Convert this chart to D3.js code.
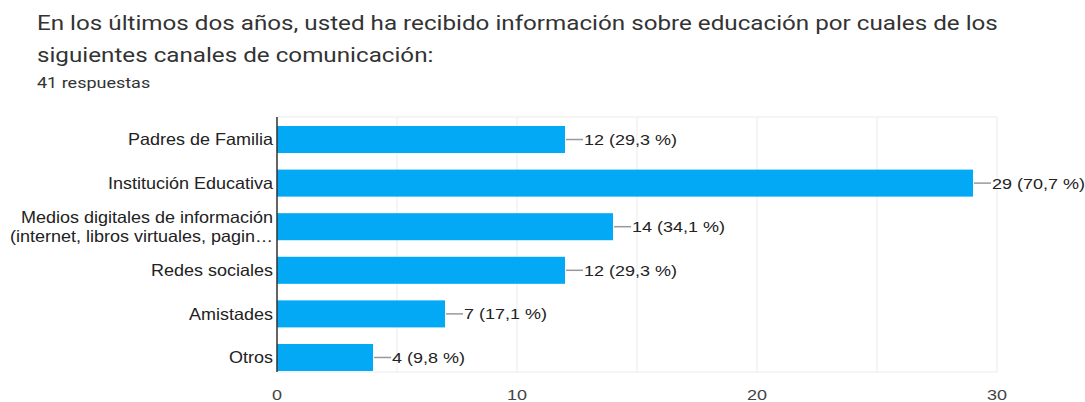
<!DOCTYPE html>
<html>
<head>
<meta charset="utf-8">
<script src="https://cdn.jsdelivr.net/npm/d3@7"></script>
<style>
  body { margin: 0; background: #fff; }
  svg { display: block; }
</style>
</head>
<body>
<div id="chart"></div>
<script>
const categories = [
  ['Padres de Familia'],
  ['Institución Educativa'],
  ['Medios digitales de información', '(internet, libros virtuales, pagin…'],
  ['Redes sociales'],
  ['Amistades'],
  ['Otros']
];
const counts = [12, 29, 14, 12, 7, 4];
const percents = ['29,3', '70,7', '34,1', '29,3', '17,1', '9,8'];
const ticks = [0, 10, 20, 30];
const gridTicks = [0, 5, 10, 15, 20, 25, 30];

const width = 1085, height = 402;
const plotTop = 117, plotBottom = 372;

const svg = d3.select('#chart').append('svg')
  .attr('width', width)
  .attr('height', height);

// the screenshot is a bit wide, so stretch the text to match
function stretch(sel, k) {
  sel.each(function() {
    const w = this.getComputedTextLength();
    d3.select(this)
      .attr('textLength', w * k)
      .attr('lengthAdjust', 'spacingAndGlyphs');
  });
}

// title
const title = svg.append('g')
  .style('font-family', 'Roboto, sans-serif')
  .attr('fill', '#333');
title.append('text').attr('x', 37).attr('y', 30).style('font-size', '20px')
  .text('En los últimos dos años, usted ha recibido información sobre educación por cuales de los')
  .call(stretch, 1.21);
title.append('text').attr('x', 37).attr('y', 62).style('font-size', '20px')
  .text('siguientes canales de comunicación:')
  .call(stretch, 1.21);
title.append('text').attr('x', 37).attr('y', 88).style('font-size', '14.5px')
  .text('41 respuestas')
  .call(stretch, 1.24);

const x = d3.scaleLinear().domain([0, 30]).range([277, 997]);
const y = d3.scaleBand()
  .domain(d3.range(categories.length))
  .range([126, 371])
  .paddingInner(0.38)
  .paddingOuter(0);

const chart = svg.append('g')
  .style('font-family', '"Liberation Sans", Arial, sans-serif');

// grid
chart.selectAll('.grid')
  .data(gridTicks)
  .enter().append('line')
  .attr('x1', d => x(d)).attr('x2', d => x(d))
  .attr('y1', plotTop).attr('y2', plotBottom)
  .attr('stroke', '#ebebeb').attr('stroke-width', 1);

chart.append('line')
  .attr('x1', x(0)).attr('x2', x(30))
  .attr('y1', plotTop).attr('y2', plotTop)
  .attr('stroke', '#ebebeb');
chart.append('line')
  .attr('x1', x(0)).attr('x2', x(30))
  .attr('y1', plotBottom).attr('y2', plotBottom)
  .attr('stroke', '#ebebeb');

// bars
chart.selectAll('.bar')
  .data(counts)
  .enter().append('rect')
  .attr('x', x(0))
  .attr('y', (d, i) => y(i))
  .attr('width', d => x(d) - x(0))
  .attr('height', y.bandwidth())
  .attr('fill', '#03a9f4');

// leader lines and value labels
chart.selectAll('.leader')
  .data(counts)
  .enter().append('line')
  .attr('x1', d => x(d) + 1)
  .attr('x2', d => x(d) + 18)
  .attr('y1', (d, i) => y(i) + y.bandwidth() / 2)
  .attr('y2', (d, i) => y(i) + y.bandwidth() / 2)
  .attr('stroke', '#999').attr('stroke-width', 1.5);

chart.selectAll('.val')
  .data(counts)
  .enter().append('text')
  .attr('x', d => x(d) + 19)
  .attr('y', (d, i) => y(i) + y.bandwidth() / 2)
  .attr('dy', '0.35em')
  .style('font-size', '15.5px')
  .attr('fill', '#222')
  .text((d, i) => d + ' (' + percents[i] + ' %)')
  .call(stretch, 1.16);

// category labels
const cat = chart.selectAll('.cat')
  .data(categories)
  .enter().append('text')
  .attr('text-anchor', 'end')
  .style('font-size', '16.5px')
  .attr('fill', '#222');
cat.each(function(lines, i) {
  const cy = y(i) + y.bandwidth() / 2;
  const off = (lines.length - 1) * 9.5;
  d3.select(this).selectAll('tspan')
    .data(lines)
    .enter().append('tspan')
    .attr('x', 273)
    .attr('y', (d, j) => cy - off + j * 19)
    .attr('dy', '0.35em')
    .text(d => d)
    .call(stretch, 1.09);
});

// baseline axis
chart.append('line')
  .attr('x1', x(0)).attr('x2', x(0))
  .attr('y1', plotTop).attr('y2', plotBottom)
  .attr('stroke', '#333').attr('stroke-width', 1.5);

// tick labels
chart.selectAll('.tick')
  .data(ticks)
  .enter().append('text')
  .attr('x', d => x(d))
  .attr('y', 395)
  .attr('dy', '0.35em')
  .attr('text-anchor', 'middle')
  .style('font-size', '15.5px')
  .attr('fill', '#444')
  .text(d => d)
  .call(stretch, 1.16);
</script>
</body>
</html>
